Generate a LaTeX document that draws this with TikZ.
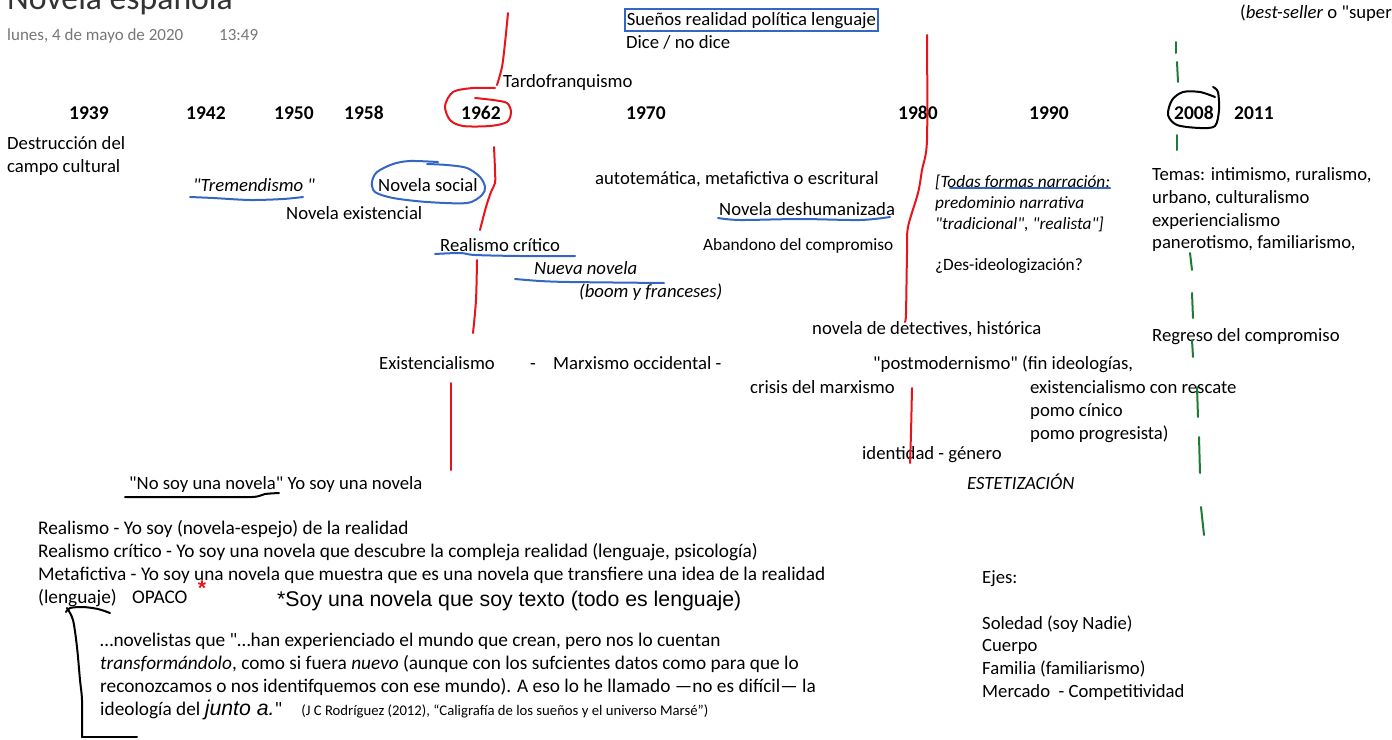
\documentclass[tikz,border=0pt]{standalone}
\usepackage{fontspec}
\setmainfont{Carlito}[Ligatures=TeXOff]
\newfontfamily\arialf{Liberation Sans}[Ligatures=TeXOff]
\definecolor{penred}{HTML}{E8141C}
\definecolor{penblue}{HTML}{3466C4}
\definecolor{pengreen}{HTML}{1E7B34}
\definecolor{datagray}{HTML}{767676}
\newcommand\fN{\fontsize{18.7}{22.5}\selectfont}
\newcommand\fB{\fontsize{19.3}{23}\selectfont}
\newcommand\fS{\fontsize{17.3}{21}\selectfont}
\newcommand\fY{\fontsize{19.5}{23}\selectfont\bfseries}
\newcommand\fA{\arialf\fontsize{21.3}{24}\selectfont}
\begin{document}
\begin{tikzpicture}[x=1pt,y=-1pt,
  t/.style={anchor=base west,inner sep=0pt,font=\fN},
  tb/.style={t,font=\fB},
  ts/.style={t,font=\fS},
  yr/.style={t,font=\fY},
  redpen/.style={draw=penred,line width=2pt,line cap=round,line join=round},
  bluepen/.style={draw=penblue,line width=2pt,line cap=round,line join=round},
  blackpen/.style={draw=black,line width=2pt,line cap=round,line join=round},
  greenpen/.style={draw=pengreen,line width=2pt,line cap=round}]
\useasboundingbox (0,0) rectangle (1392,739);
\clip (0,0) rectangle (1392,739);
% header
\node[t,font=\fontsize{33.7}{36}\selectfont,text=black!80] (title) at (7,9) {Novela española};
\node[t,font=\fontsize{17}{20}\selectfont,text=datagray] (date) at (7,40) {lunes, 4 de mayo de 2020};
\node[t,font=\fontsize{17}{20}\selectfont,text=datagray] (hour) at (219,40) {13:49};
\node[t] (best) at (1240,18) {(\textit{best-seller} o "super};
\node[t,draw=penblue,line width=1.6pt,inner xsep=2pt,inner ysep=3pt] (suenos) at (624,25) {Sueños realidad política lenguaje};
\node[t] (dice) at (626,48) {Dice / no dice};
\node[t] (tardo) at (503,87) {Tardofranquismo};
% years
\node[yr] (y1939) at (69,119) {1939};
\node[yr] (y1942) at (186,119) {1942};
\node[yr] (y1950) at (274,119) {1950};
\node[yr] (y1958) at (344,119) {1958};
\node[yr] (y1962) at (461,119) {1962};
\node[yr] (y1970) at (626,119) {1970};
\node[yr] (y1980) at (898,119) {1980};
\node[yr] (y1990) at (1029,119) {1990};
\node[yr] (y2008) at (1174,119) {2008};
\node[yr] (y2011) at (1234,119) {2011};
% upper band
\node[t] (destr1) at (7,149) {Destrucción del};
\node[t] (destr2) at (7,172) {campo cultural};
\node[t] (tremend) at (193,191) {\textit{"Tremendismo "}};
\node[t] (nsocial) at (378,191) {Novela social};
\node[t] (nexist) at (286,219) {Novela existencial};
\node[t] (autot) at (595,184) {autotemática, metafictiva o escritural};
\node[t] (deshum) at (719,215) {Novela deshumanizada};
\node[t] (realcrit) at (440,251) {Realismo crítico};
\node[ts] (abandono) at (703,250) {Abandono del compromiso};
\node[t] (nueva) at (534,274) {\textit{Nueva novela}};
\node[t] (boom) at (579,297) {\textit{(boom y franceses)}};
\node[ts] (todas1) at (935,187) {\textit{[Todas formas narración;}};
\node[ts] (todas2) at (935,208) {\textit{predominio narrativa}};
\node[ts] (todas3) at (935,229) {\textit{"tradicional", "realista"]}};
\node[ts] (desid) at (935,270) {¿Des-ideologización?};
\node[t] (temas1) at (1152,180) {Temas: intimismo, ruralismo,};
\node[t] (temas2) at (1152,203) {urbano, culturalismo};
\node[t] (temas3) at (1152,226) {experiencialismo};
\node[t] (temas4) at (1152,248) {panerotismo, familiarismo,};
\node[t] (detect) at (812,334) {novela de detectives, histórica};
\node[t] (regreso) at (1152,341) {Regreso del compromiso};
% middle band
\node[t] (existen) at (379,369) {Existencialismo};
\node[t] (dash1) at (530,369) {-};
\node[t] (marx) at (553,369) {Marxismo occidental -};
\node[t] (postm) at (873,369) {"postmodernismo" (fin ideologías,};
\node[t] (crisis) at (750,393) {crisis del marxismo};
\node[t] (rescate) at (1030,393) {existencialismo con rescate};
\node[t] (cinico) at (1030,416) {pomo cínico};
\node[t] (progre) at (1030,439) {pomo progresista)};
\node[t] (ident) at (862,459) {identidad - género};
\node[t] (estet) at (967,489) {\textit{ESTETIZACIÓN}};
\node[t] (nosoy) at (129,489) {"No soy una novela" Yo soy una novela};
% bottom block
\node[tb] (b1) at (38,534) {Realismo - Yo soy (novela-espejo) de la realidad};
\node[tb] (b2) at (38,557) {Realismo crítico - Yo soy una novela que descubre la compleja realidad (lenguaje, psicología)};
\node[tb] (b3) at (38,580) {Metafictiva - Yo soy una novela que muestra que es una novela que transfiere una idea de la realidad};
\node[tb] (b4) at (38,603) {(lenguaje)};
\node[tb] (opaco) at (132,603) {OPACO};
\node[anchor=base,inner sep=0pt,font=\fA\bfseries,text=penred] (ast) at (202,595) {*};
\node[t,font=\fA] (soytexto) at (277,606) {*Soy una novela que soy texto (todo es lenguaje)};
\node[tb] (q1) at (100,646) {…novelistas que "…han experienciado el mundo que crean, pero nos lo cuentan};
\node[tb] (q2) at (100,669) {\textit{transformándolo}, como si fuera \textit{nuevo} (aunque con los sufcientes datos como para que lo};
\node[tb] (q3) at (100,692) {reconozcamos o nos identifquemos con ese mundo). A eso lo he llamado —no es difícil— la};
\node[tb] (q4) at (100,715) {ideología del {\fA\itshape junto a.}"\hspace{19pt}{\fontsize{14.7}{17}\selectfont (J C Rodríguez (2012), “Caligrafía de los sueños y el universo Marsé”)}};
\node[t] (ejes) at (982,583) {Ejes:};
\node[t] (soledad) at (982,629) {Soledad (soy Nadie)};
\node[t] (cuerpo) at (982,651) {Cuerpo};
\node[t] (familia) at (982,674) {Familia (familiarismo)};
\node[t] (mercado) at (982,697) {Mercado\ \ - Competitividad};
% red pen strokes
\draw[redpen] plot[smooth] coordinates {(508,13) (505,43) (502,67) (497,85)};
\draw[redpen] plot[smooth] coordinates {(495,88) (473,88) (453,92) (445,106) (450,120) (463,126) (490,126) (507,122) (511,112) (507,103) (493,100) (475,98)};
\draw[redpen] plot[smooth] coordinates {(494,147) (495,170) (495,183) (491,192) (486,207) (480,230)};
\draw[redpen] plot[smooth] coordinates {(477,260) (476,300) (473,333)};
\draw[redpen] (451,383) -- (451,470);
\draw[redpen] plot[smooth] coordinates {(927,35) (927,140) (922,170) (918,193) (908,227) (907,253) (906,313) (905,322)};
\draw[redpen] plot[smooth] coordinates {(912,388) (911,433) (910,463)};
% blue pen strokes
\draw[bluepen] plot[smooth] coordinates {(190,197) (213,198) (250,200) (283,199) (303,197)};
\draw[bluepen] plot[smooth] coordinates {(438,162) (410,161) (393,164) (377,172) (372,182) (375,192) (393,198) (427,202) (467,203) (482,195) (485,187) (480,177) (467,168) (447,165) (427,164)};
\draw[bluepen] plot[smooth] coordinates {(435,254) (460,253) (475,255) (520,256) (575,256)};
\draw[bluepen] plot[smooth] coordinates {(515,279) (540,281) (570,282) (664,283)};
\draw[bluepen] plot[smooth] coordinates {(718,218) (740,220) (800,219) (860,220) (890,217)};
\draw[bluepen] (950,188) -- (1110,188);
% black pen strokes
\draw[blackpen] plot[smooth] coordinates {(125,497) (200,497) (252,497) (265,494) (279,493)};
\draw[blackpen] plot[smooth] coordinates {(1213,87) (1218,92) (1219,110) (1215,126) (1200,128) (1177,125) (1168,115) (1172,100) (1183,92) (1200,92) (1215,97)};
\draw[blackpen] plot[smooth] coordinates {(110,613) (98,609) (83,607) (70,608) (66,612)};
\draw[blackpen] plot[smooth] coordinates {(67,608) (73,620) (77,647) (80,680) (82,700) (82,737)};
\draw[blackpen] (82,737) -- (137,737);
% green dashed line
\draw[greenpen] (1176,42) -- (1176,53);
\draw[greenpen] (1177,62) -- (1178,82);
\draw[greenpen] (1177,135) -- (1177,150);
\draw[greenpen] (1190,253) -- (1192,270);
\draw[greenpen] (1192,293) -- (1193,318);
\draw[greenpen] (1192,340) -- (1193,357);
\draw[greenpen] (1197,387) -- (1198,417);
\draw[greenpen] (1199,437) -- (1200,473);
\draw[greenpen] (1201,507) -- (1204,535);
\end{tikzpicture}
\end{document}
